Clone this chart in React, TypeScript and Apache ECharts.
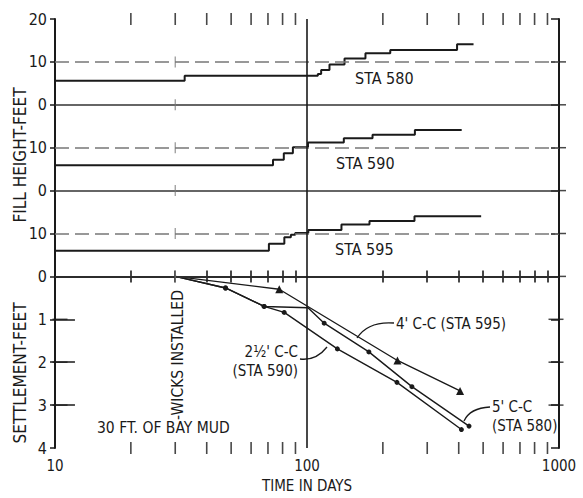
import React, { useEffect, useRef } from "react";
import * as echarts from "echarts";

// ---- tick labels ----
const xTickLabels = ["10", "100", "1000"];
// y values -4 .. 6 (one shared linear scale: settlement below 0, three fill panels above)
const yTickLabels = ["4", "3", "2", "1", "0", "10", "0", "10", "0", "10", "20"];
const minorTickDays = [20, 30, 40, 50, 60, 70, 80, 90, 200, 300, 400, 500, 600, 700, 800, 900];
const settleTickLevels = [-1, -2, -3];

// ---- fill height (feet) step histories ----
const fill580Days = [10, 32.7, 110.4, 113.8, 122.8, 140.9, 170.6, 214, 394, 458];
const fill580Feet = [5.6, 6.8, 7.2, 8.1, 9.4, 10.8, 12.0, 12.8, 14.1, 14.1];
const fill590Days = [10, 73.3, 80.9, 87.9, 100.9, 140, 182, 268, 411];
const fill590Feet = [5.9, 7.2, 8.7, 10.1, 11.2, 12.2, 13.0, 14.1, 14.1];
const fill595Days = [10, 70.6, 81.3, 86.3, 89.8, 101.2, 137, 177, 267, 491];
const fill595Feet = [6.0, 7.6, 9.1, 9.7, 10.1, 10.8, 12.1, 12.9, 14.0, 14.0];

// ---- settlement (feet) ----
const settle580Days = [30, 47.5, 67.6, 100.9, 117, 176, 260.8, 439.5];
const settle580Feet = [0, 0.27, 0.7, 0.73, 1.09, 1.76, 2.57, 3.49];
const settle590Days = [30, 47.5, 67.6, 81.2, 132, 227.5, 410];
const settle590Feet = [0, 0.27, 0.7, 0.84, 1.69, 2.47, 3.57];
const settle595Days = [30, 77.6, 228.5, 405];
const settle595Feet = [0, 0.3, 1.96, 2.67];

const FONT = "'Liberation Sans Narrow', 'DejaVu Sans Condensed', 'Liberation Sans', sans-serif";
const INK = "#1a1a1a";

function stepData(days: number[], feet: number[], base: number) {
  return days.map((d, i) => [d, base + feet[i] / 10]);
}
function settleData(days: number[], feet: number[], noMark: number[]) {
  return days.map((d, i) =>
    noMark.includes(i) ? { value: [d, -feet[i]], symbol: "none" } : { value: [d, -feet[i]] }
  );
}
function txt(text: string, x: number, y: number, size: number, align = "left", rot = 0) {
  return {
    type: "text",
    x,
    y,
    rotation: rot,
    style: { text, fill: INK, fontFamily: FONT, fontSize: size, textAlign: align, textVerticalAlign: "middle" },
  };
}
function tickItems(points: number[][], size: number[], offset: number[], color = INK) {
  return points.map((p) => ({
    value: p,
    symbol: "rect",
    symbolSize: size,
    symbolOffset: offset,
    itemStyle: { color },
  }));
}

export default function App() {
  const ref = useRef<HTMLDivElement>(null);
  useEffect(() => {
    if (!ref.current) return;
    const chart = echarts.init(ref.current, undefined, { renderer: "svg" });

    const stepSeries = (data: number[][]) => ({
      type: "line",
      step: "end",
      data,
      symbol: "none",
      lineStyle: { color: INK, width: 2 },
    });
    const settleSeries = (data: any[], symbol: string, size: number) => ({
      type: "line",
      data,
      symbol,
      symbolSize: size,
      itemStyle: { color: INK },
      lineStyle: { color: INK, width: 1.4 },
    });

    const solid = { type: "solid", color: "#333", width: 1.5 };
    const dashed = { type: [14, 6], color: "#777", width: 1.5 };
    const axisLine = { show: true, lineStyle: { color: INK, width: 2 } };
    const tickStyle = { color: INK, width: 1.6 };

    const allTicks = [
      ...tickItems(minorTickDays.map((d) => [d, 6]), [1.6, 12], [0, 0]),
      ...tickItems(minorTickDays.map((d) => [d, -4]), [1.6, 12], [0, 0]),
      ...tickItems([0, 1, 2, 3, 4, 5].map((v) => [30, v]), [1.2, 11], [0, 0], "#777"),
      ...tickItems(settleTickLevels.map((v) => [10, v]), [15, 1.5], [5, 0]),
      ...tickItems(settleTickLevels.map((v) => [1000, v]), [15, 1.5], [-3, 0]),
      ...tickItems([0, 1, 2, 3, 4, 5].map((v) => [1000, v]), [8, 1.5], [3, 0]),
    ];

    const option: any = {
      animation: false,
      backgroundColor: "#ffffff",
      grid: { left: 55, right: 24, top: 19, bottom: 45 },
      xAxis: [
        {
          type: "log",
          logBase: 10,
          min: 10,
          max: 1000,
          axisLine,
          axisTick: { show: true, inside: true, length: 6, customValues: minorTickDays, lineStyle: tickStyle },
          splitLine: { show: false },
          axisLabel: {
            color: INK,
            fontFamily: FONT,
            fontSize: 15,
            margin: 10,
            showMinLabel: true,
            showMaxLabel: true,
            formatter: (v: number) => xTickLabels[Math.round(Math.log10(v)) - 1] ?? "",
          },
          name: "TIME IN DAYS",
          nameLocation: "middle",
          nameGap: 30,
          nameTextStyle: { color: INK, fontFamily: FONT, fontSize: 15 },
        },
        {
          type: "log",
          logBase: 10,
          min: 10,
          max: 1000,
          position: "top",
          axisLine,
          axisTick: { show: true, inside: true, length: 6, customValues: minorTickDays, lineStyle: tickStyle },
          splitLine: { show: false },
          axisLabel: { show: false },
        },
      ],
      yAxis: [
        {
          type: "value",
          min: -4,
          max: 6,
          interval: 1,
          axisLine,
          axisTick: { show: true, length: 5, lineStyle: { color: INK, width: 1.5 } },
          splitLine: { show: false },
          axisLabel: {
            color: INK,
            fontFamily: FONT,
            fontSize: 16,
            margin: 8,
            formatter: (v: number) => yTickLabels[Math.round(v) + 4] ?? "",
          },
        },
        {
          type: "value",
          min: -4,
          max: 6,
          interval: 1,
          position: "right",
          axisLine,
          axisTick: { show: true, inside: true, length: 8, lineStyle: { color: INK, width: 1.5 } },
          splitLine: { show: false },
          axisLabel: { show: false },
        },
      ],
      series: [
        {
          type: "scatter",
          data: allTicks,
          clip: false,
          z: 5,
        },
        {
          type: "line",
          data: [[10, 0], [1000, 0]],
          symbol: "none",
          lineStyle: { opacity: 0 },
          markLine: {
            silent: true,
            symbol: ["none", "none"],
            label: { show: false },
            data: [
              { yAxis: 0, lineStyle: solid },
              { yAxis: 2, lineStyle: solid },
              { yAxis: 4, lineStyle: solid },
              { yAxis: 1, lineStyle: dashed },
              { yAxis: 3, lineStyle: dashed },
              { yAxis: 5, lineStyle: dashed },
              { xAxis: 100, lineStyle: { type: "solid", color: INK, width: 1.6 } },
              ...settleTickLevels.map((v) => [
                { coord: [10, v], lineStyle: { type: "solid", color: INK, width: 1.5 } },
                { coord: [12, v] },
              ]),
            ],
          },
        },
        stepSeries(stepData(fill580Days, fill580Feet, 4)),
        stepSeries(stepData(fill590Days, fill590Feet, 2)),
        stepSeries(stepData(fill595Days, fill595Feet, 0)),
        settleSeries(settleData(settle580Days, settle580Feet, [0, 3]), "circle", 5),
        settleSeries(settleData(settle590Days, settle590Feet, [0]), "circle", 5),
        settleSeries(settleData(settle595Days, settle595Feet, [0]), "triangle", 8),
      ],
      graphic: [
        txt("FILL HEIGHT-FEET", 20, 155, 17, "center", Math.PI / 2),
        txt("SETTLEMENT-FEET", 20, 373, 17, "center", Math.PI / 2),
        txt("-WICKS INSTALLED", 178, 355, 15.5, "center", Math.PI / 2),
        txt("30 FT. OF BAY MUD", 97, 428, 15.5),
        txt("STA 580", 355, 78, 16),
        txt("STA 590", 336, 163, 16),
        txt("STA 595", 335, 249, 16),
        txt("2\u00bd' C-C", 298, 352, 15, "right"),
        txt("(STA 590)", 298, 371, 15, "right"),
        txt("4' C-C (STA 595)", 396, 324, 15),
        txt("5' C-C", 492, 407, 15),
        txt("(STA 580)", 492, 426, 15),
        ...[
          { x1: 300, y1: 359, cpx1: 316, cpy1: 361, x2: 327, y2: 347 },
          { x1: 394, y1: 323, cpx1: 368, cpy1: 321, x2: 357, y2: 338 },
          { x1: 490, y1: 407, cpx1: 470, cpy1: 408, x2: 464, y2: 421 },
        ].map((shape) => ({
          type: "bezierCurve",
          shape,
          style: { stroke: INK, lineWidth: 1.3, fill: "none" },
        })),
      ],
    };

    chart.setOption(option);
    return () => chart.dispose();
  }, []);

  return (
    <div
      ref={ref}
      style={{ position: "fixed", left: 0, top: 0, width: 583, height: 498, background: "#fff" }}
    />
  );
}
